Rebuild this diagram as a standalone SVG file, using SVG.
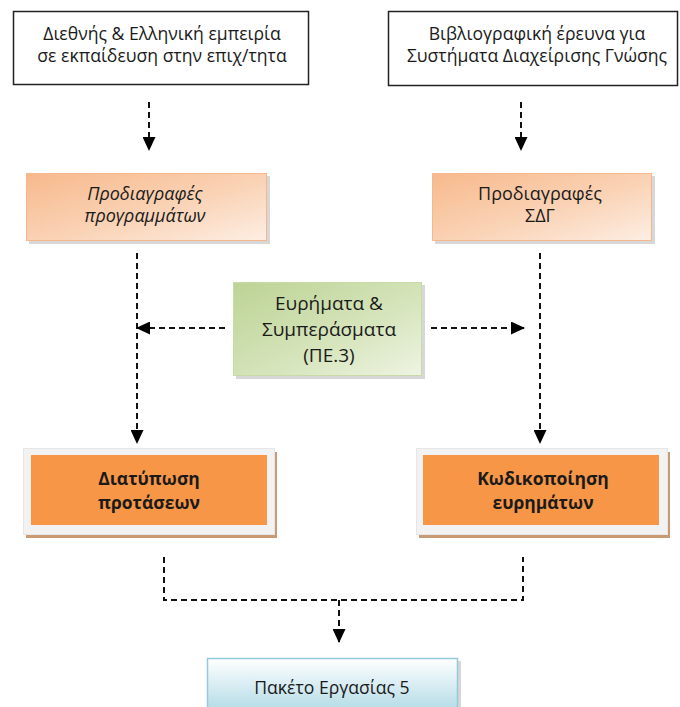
<svg xmlns="http://www.w3.org/2000/svg" width="680" height="707" viewBox="0 0 680 707">
  <style>
    text { font-family: "Open Sans", "Noto Sans", "DejaVu Sans", sans-serif; fill: #1a1a1a; text-anchor: middle; }
    .src { font-size: 17.6px; }
    .spec { font-size: 18px; }
    .it { font-style: italic; }
    .res { font-size: 19px; }
    .act { font-size: 17.5px; font-weight: bold; }
    .wp { font-size: 17.6px; }
    .dash { fill: none; stroke: #111; stroke-width: 2; stroke-dasharray: 6 4; }
    .shadow { fill: #bdbdbd; opacity: 0.6; }
  </style>
  <defs>
    <marker id="arrow" viewBox="0 0 14 13" refX="13" refY="6.5" markerWidth="14" markerHeight="13" markerUnits="userSpaceOnUse" orient="auto">
      <path d="M0,0 L14,6.5 L0,13 Z" fill="#000"/>
    </marker>
    <linearGradient id="gSpec" x1="0" y1="0" x2="1" y2="1">
      <stop offset="0" stop-color="#f7b98c"/>
      <stop offset="0.55" stop-color="#fad3b6"/>
      <stop offset="1" stop-color="#fdeee3"/>
    </linearGradient>
    <linearGradient id="gRes" x1="0" y1="0" x2="1" y2="1">
      <stop offset="0" stop-color="#bcd394"/>
      <stop offset="0.6" stop-color="#d7e5bd"/>
      <stop offset="1" stop-color="#eef4e3"/>
    </linearGradient>
    <linearGradient id="gWp" x1="0" y1="0" x2="0" y2="1">
      <stop offset="0" stop-color="#ffffff"/>
      <stop offset="1" stop-color="#b3dbe6"/>
    </linearGradient>
  </defs>

  <!-- connectors -->
  <g id="connectors">
    <path class="dash" d="M149,102 V150" marker-end="url(#arrow)"/>
    <path class="dash" d="M521,102 V150" marker-end="url(#arrow)"/>
    <path class="dash" d="M137,253 V443" marker-end="url(#arrow)"/>
    <path class="dash" d="M540,253 V443" marker-end="url(#arrow)"/>
    <path class="dash" d="M225,328 H137" marker-end="url(#arrow)"/>
    <path class="dash" d="M431,328 H524" marker-end="url(#arrow)"/>
    <path class="dash" d="M164,557 V600 H523 V557"/>
    <path class="dash" d="M339,600 V642" marker-end="url(#arrow)"/>
  </g>

  <!-- sources -->
  <g id="source-experience">
    <rect x="13.5" y="11.5" width="295" height="73" fill="#fff" stroke="#222" stroke-width="1.5"/>
    <text class="src" x="162" y="40">Διεθνής &amp; Ελληνική εμπειρία</text>
    <text class="src" x="162" y="62">σε εκπαίδευση στην επιχ/τητα</text>
  </g>
  <g id="source-literature">
    <rect x="388.5" y="11.5" width="289" height="74" fill="#fff" stroke="#222" stroke-width="1.5"/>
    <text class="src" x="537" y="40">Βιβλιογραφική έρευνα για</text>
    <text class="src" x="537" y="62">Συστήματα Διαχείρισης Γνώσης</text>
  </g>

  <!-- specifications -->
  <g id="spec-programs">
    <rect class="shadow" x="29" y="176" width="241" height="68"/>
    <rect x="26.5" y="173.5" width="240" height="67" fill="url(#gSpec)" stroke="#f5b88c" stroke-width="1"/>
    <text class="spec it" x="145" y="200">Προδιαγραφές</text>
    <text class="spec it" x="145" y="222">προγραμμάτων</text>
  </g>
  <g id="spec-kms">
    <rect class="shadow" x="435" y="176" width="220" height="68"/>
    <rect x="432.5" y="173.5" width="219" height="67" fill="url(#gSpec)" stroke="#f5b88c" stroke-width="1"/>
    <text class="spec" x="540" y="200">Προδιαγραφές</text>
    <text class="spec" x="540" y="222">ΣΔΓ</text>
  </g>

  <!-- findings -->
  <g id="findings">
    <rect class="shadow" x="236" y="285" width="189" height="94"/>
    <rect x="233.5" y="282.5" width="188" height="93" fill="url(#gRes)" stroke="#c8dba6" stroke-width="1"/>
    <text class="res" x="329" y="310">Ευρήματα &amp;</text>
    <text class="res" x="329" y="336">Συμπεράσματα</text>
    <text class="res" x="329" y="362">(ΠΕ.3)</text>
  </g>

  <!-- activities -->
  <g id="proposals">
    <rect x="26" y="535" width="251" height="3" fill="#c99a74"/>
    <rect x="275" y="452" width="2" height="84" fill="#c99a74"/>
    <rect x="23.5" y="448.5" width="251" height="86" fill="#f2f2f2" stroke="#e6e6e6" stroke-width="1"/>
    <rect x="31" y="455" width="236" height="70" fill="#f79646"/>
    <text class="act" x="149" y="485">Διατύπωση</text>
    <text class="act" x="149" y="509">προτάσεων</text>
  </g>
  <g id="coding">
    <rect x="419" y="535" width="251" height="3" fill="#c99a74"/>
    <rect x="668" y="452" width="2" height="84" fill="#c99a74"/>
    <rect x="416.5" y="448.5" width="251" height="86" fill="#f2f2f2" stroke="#e6e6e6" stroke-width="1"/>
    <rect x="423" y="455" width="236" height="70" fill="#f79646"/>
    <text class="act" x="543" y="485">Κωδικοποίηση</text>
    <text class="act" x="543" y="509">ευρημάτων</text>
  </g>

  <!-- outcome -->
  <g id="work-package">
    <rect class="shadow" x="210" y="661" width="251" height="50"/>
    <rect x="207.5" y="658.5" width="250" height="52" fill="url(#gWp)" stroke="#92cbdc" stroke-width="1.5"/>
    <text class="wp" x="332" y="694">Πακέτο Εργασίας 5</text>
  </g>
</svg>
